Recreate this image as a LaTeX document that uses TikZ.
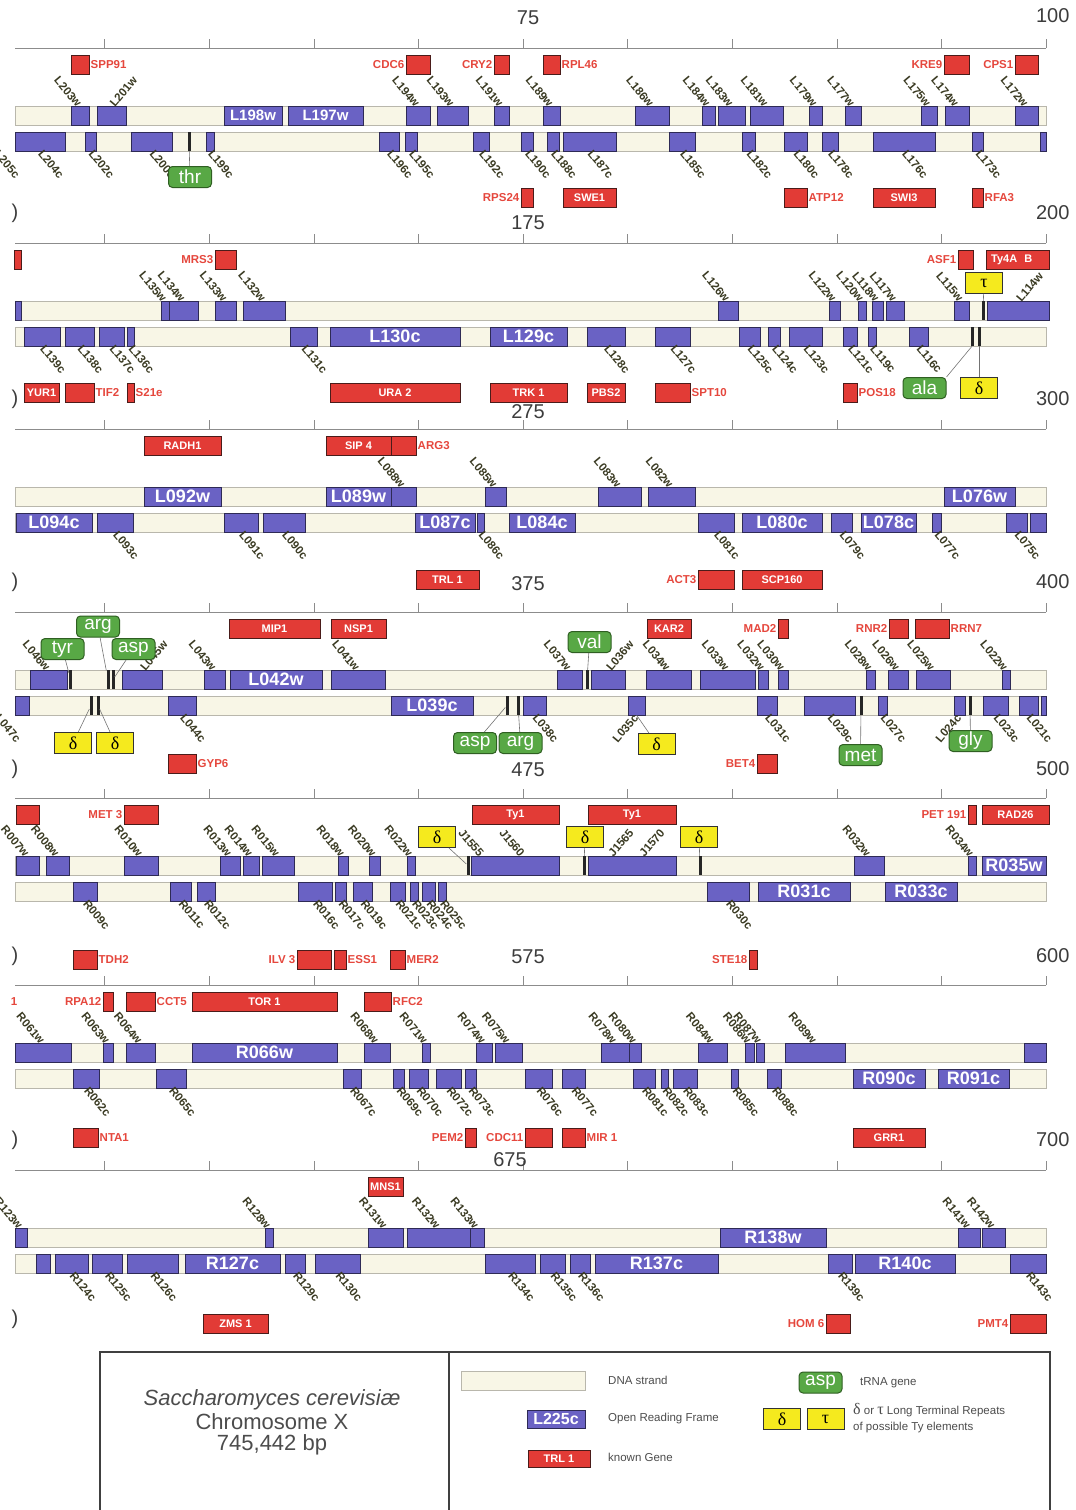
\documentclass[tikz,border=0pt]{standalone}
\usepackage{fontspec}
\setmainfont{Liberation Sans}
\newfontfamily\grk{Liberation Serif}
\usepackage{tikz}

\definecolor{orfc}{HTML}{6A62C4}
\definecolor{orfd}{HTML}{2E2A55}
\definecolor{genec}{HTML}{E23B36}
\definecolor{gened}{HTML}{4A1C1A}
\definecolor{bandc}{HTML}{F8F6E6}
\definecolor{bandd}{HTML}{B9B7AC}
\definecolor{labc}{HTML}{3A3A22}
\definecolor{redt}{HTML}{E5473D}
\definecolor{trnac}{HTML}{58A845}
\definecolor{trnad}{HTML}{2F5F22}
\definecolor{ltrc}{HTML}{F5EA1E}
\definecolor{numc}{HTML}{3C3C3C}

\tikzset{
  ruler/.style={draw=black!45, line width=0.6pt},
  strand/.style={draw=bandd, fill=bandc, line width=0.6pt},
  orf/.style={draw=orfd, fill=orfc, line width=0.7pt},
  gene/.style={draw=gened, fill=genec, line width=0.8pt},
  lab/.style={text=labc, font=\bfseries\fontsize{11.5}{11.5}\selectfont, inner sep=0.8pt},
  big/.style={text=white, font=\bfseries\fontsize{18}{18}\selectfont, inner sep=0pt},
  gin/.style={text=white, font=\bfseries\fontsize{11}{11}\selectfont, inner sep=0pt},
  gout/.style={text=redt, font=\bfseries\fontsize{11.5}{11.5}\selectfont, inner sep=1.5pt},
  trna/.style={draw=trnad, fill=trnac, line width=1pt, rounded corners=4pt, text=white,
    font=\fontsize{19}{19}\selectfont, minimum width=43pt, minimum height=21pt, inner sep=0pt},
  ltr/.style={draw=black!80, fill=ltrc, line width=0.8pt, font=\grk\fontsize{18}{18}\selectfont,
    minimum width=37pt, minimum height=21pt, inner sep=0pt},
  tmark/.style={fill=black!85, minimum width=3pt, minimum height=19pt, inner sep=0pt},
  conn/.style={draw=black!55, line width=0.6pt},
  num/.style={text=numc, font=\fontsize{20}{20}\selectfont},
  spec/.style={text=black!70, font=\fontsize{22}{22}\selectfont},
  key/.style={text=black!70, font=\fontsize{11.5}{12}\selectfont, anchor=west, inner sep=0pt}
}

% one row: ruler with ticks every 5 kb, watson and crick strands
\newcommand\Panel[1]{\def\Wy{#1}\pgfmathsetmacro\Cy{#1+26}\pgfmathsetmacro\Ay{#1-58}
  \draw[ruler] (15,\Ay) -- (1046,\Ay);
  \foreach \k in {1,...,10} \draw[ruler] ({104.6*\k},\Ay) -- ++(0,-9);
  \draw[strand] (15,\Wy) rectangle (1046,\Wy+19);
  \draw[strand] (15,\Cy) rectangle (1046,\Cy+19);}
% ORFs on the w strand
\newcommand\Wdn[3]{\draw[orf] (#1,\Wy) rectangle (#2,\Wy+19);
  \node[lab,rotate=-50,anchor=east] (#3) at ({(#1+#2)/2},\Wy) {#3};}
\newcommand\Wrise[3]{\draw[orf] (#1,\Wy) rectangle (#2,\Wy+19);
  \node[lab,rotate=50,anchor=west] (#3) at ({(#1+#2)/2},\Wy) {#3};}
\newcommand\Win[3]{\draw[orf] (#1,\Wy) rectangle (#2,\Wy+19);
  \node[big] (#3) at ({(#1+#2)/2},\Wy+9.5) {#3};}
\newcommand\Wbox[2]{\draw[orf] (#1,\Wy) rectangle (#2,\Wy+19);}
% ORFs on the c strand
\newcommand\Cdn[3]{\draw[orf] (#1,\Cy) rectangle (#2,\Cy+19);
  \node[lab,rotate=-50,anchor=west] (#3) at ({(#1+#2)/2},\Cy+19) {#3};}
\newcommand\Crise[3]{\draw[orf] (#1,\Cy) rectangle (#2,\Cy+19);
  \node[lab,rotate=50,anchor=east] (#3) at ({(#1+#2)/2},\Cy+19) {#3};}
\newcommand\Cin[3]{\draw[orf] (#1,\Cy) rectangle (#2,\Cy+19);
  \node[big] (#3) at ({(#1+#2)/2},\Cy+9.5) {#3};}
\newcommand\Cbox[2]{\draw[orf] (#1,\Cy) rectangle (#2,\Cy+19);}
% known genes: name inside, right or left
\newcommand\GI[4]{\draw[gene] (#2,#1) rectangle (#3,#1+19);
  \node[gin] (#4) at ({(#2+#3)/2},#1+9.5) {#4};}
\newcommand\GR[4]{\draw[gene] (#2,#1) rectangle (#3,#1+19);
  \node[gout,anchor=west] (#4) at (#3,#1+9.5) {#4};}
\newcommand\GL[4]{\draw[gene] (#2,#1) rectangle (#3,#1+19);
  \node[gout,anchor=east] (#4) at (#2,#1+9.5) {#4};}
% tRNA / LTR position on a strand
\newcommand\Mk[3]{\node[tmark] (#1) at (#2,#3+9.5) {};}

\begin{document}
\begin{tikzpicture}[x=1pt,y=-1pt]
\useasboundingbox (0,0) rectangle (1076,1510);
\begin{scope}
\clip (0,0) rectangle (1076,1510);

% row 1
\Panel{106}\def\GT{55}\def\GB{188}
\node[num] (n75) at (528,18) {75};
\node[num,anchor=east] (n100) at (1073,16) {100};
\GR{\GT}{71}{89}{SPP91}
\GL{\GT}{406}{430}{CDC6}
\GL{\GT}{494}{509}{CRY2}
\GR{\GT}{543}{560}{RPL46}
\GL{\GT}{944}{969}{KRE9}
\GL{\GT}{1015}{1038}{CPS1}
\Wdn{71}{89}{L203w}
\Wrise{97}{126}{L201w}
\begin{scope}[big/.append style={font=\bfseries\fontsize{15}{15}\selectfont}]
\Win{224}{282}{L198w}
\Win{288}{363}{L197w}
\end{scope}
\Wdn{406}{430}{L194w}
\Wdn{437}{468}{L193w}
\Wdn{494}{509}{L191w}
\Wdn{543}{560}{L189w}
\Wdn{635}{669}{L186w}
\Wdn{702}{715}{L184w}
\Wdn{718}{745}{L183w}
\Wdn{750}{783}{L181w}
\Wdn{809}{822}{L179w}
\Wdn{845}{861}{L177w}
\Wdn{921}{937}{L175w}
\Wdn{945}{969}{L174w}
\Wdn{1015}{1038}{L172w}
\node[lab,rotate=-50,anchor=west] (L205c) at (-4,\Cy+19) {L205c};
\Cdn{15}{65}{L204c}
\Cdn{85}{96}{L202c}
\Cdn{131}{172}{L200c}
\Cdn{206}{214}{L199c}
\Cdn{379}{399}{L196c}
\Cdn{405}{417}{L195c}
\Cdn{473}{489}{L192c}
\Cdn{521}{533}{L190c}
\Cdn{547}{559}{L188c}
\Cdn{563}{616}{L187c}
\Cdn{669}{695}{L185c}
\Cdn{742}{755}{L182c}
\Cdn{784}{807}{L180c}
\Cdn{822}{838}{L178c}
\Cdn{873}{935}{L176c}
\Cdn{972}{983}{L173c}
\Cbox{1040}{1046}
\Mk{m1}{189}{\Cy}
\node[trna] (thr) at (190,177) {thr};
\draw[conn] (m1) -- (thr);
\GL{\GB}{521}{533}{RPS24}
\GI{\GB}{563}{616}{SWE1}
\GR{\GB}{784}{807}{ATP12}
\GI{\GB}{873}{935}{SWI3}
\GR{\GB}{972}{983}{RFA3}

% row 2
\Panel{301}\def\GT{250}\def\GB{383}
\node[num] (n175) at (528,223) {175};
\node[num,anchor=east] (n200) at (1073,213) {200};
\node[num] (p200) at (15,213) {)};
\draw[gene] (14,\GT) rectangle (21,\GT+19);
\GL{\GT}{215}{236}{MRS3}
\GL{\GT}{958}{973}{ASF1}
\draw[gene] (986,\GT) rectangle (1049,\GT+19);
\node[gin,anchor=west] (Ty4A) at (991,\GT+9.5) {Ty4A\hspace{7pt}B};
\Wbox{15}{21}
\Wdn{161}{169}{L135w}
\Wdn{169}{198}{L134w}
\Wdn{215}{236}{L133w}
\Wdn{243}{285}{L132w}
\Wdn{718}{738}{L126w}
\Wdn{829}{840}{L122w}
\Wdn{858}{866}{L120w}
\Wdn{872}{883}{L118w}
\Wdn{886}{904}{L117w}
\Wdn{954}{969}{L115w}
\Wrise{987}{1049}{L114w}
\Cdn{24}{60}{L139c}
\Cdn{65}{94}{L138c}
\Cdn{99}{124}{L137c}
\Cdn{127}{134}{L136c}
\Cdn{290}{317}{L131c}
\Cin{330}{460}{L130c}
\Cin{490}{567}{L129c}
\Cdn{587}{625}{L128c}
\Cdn{655}{690}{L127c}
\Cdn{739}{760}{L125c}
\Cdn{768}{780}{L124c}
\Cdn{789}{822}{L123c}
\Cdn{843}{857}{L121c}
\Cdn{868}{876}{L119c}
\Cdn{909}{928}{L116c}
\Mk{m2}{983}{\Wy}
\Mk{m3}{972}{\Cy}
\Mk{m4}{979}{\Cy}
\node[ltr] (t1) at (984,283) {τ};
\node[trna] (ala) at (924.5,388) {ala};
\node[ltr] (d1) at (979,388) {δ};
\draw[conn] (t1) -- (m2);
\draw[conn] (m3.south) -- (ala.north east);
\draw[conn] (m4) -- (d1);
\GI{\GB}{24}{59}{YUR1}
\GR{\GB}{65}{94}{TIF2}
\GR{\GB}{127}{134}{S21e}
\GI{\GB}{330}{460}{URA 2}
\GI{\GB}{490}{567}{TRK 1}
\GI{\GB}{587}{625}{PBS2}
\GR{\GB}{655}{690}{SPT10}
\GR{\GB}{843}{857}{POS18}

% row 3
\Panel{487}\def\GT{436}\def\GB{570}
\node[num] (n275) at (528,412) {275};
\node[num,anchor=east] (n300) at (1073,399) {300};
\node[num] (p300) at (15,399) {)};
\GI{\GT}{144}{221}{RADH1}
\GI{\GT}{326}{391}{SIP 4}
\GR{\GT}{391}{416}{ARG3}
\Win{144}{221}{L092w}
\Win{326}{391}{L089w}
\Wdn{391}{416}{L088w}
\Wdn{485}{506}{L085w}
\Wdn{598}{641}{L083w}
\Wdn{648}{695}{L082w}
\Win{944}{1015}{L076w}
\Cin{16}{92}{L094c}
\Cdn{97}{133}{L093c}
\Cdn{224}{258}{L091c}
\Cdn{263}{305}{L090c}
\Cin{415}{475}{L087c}
\Cdn{477}{484}{L086c}
\Cin{509}{575}{L084c}
\Cdn{698}{734}{L081c}
\Cin{742}{822}{L080c}
\Cdn{831}{852}{L079c}
\Cin{861}{916}{L078c}
\Cdn{932}{941}{L077c}
\Cdn{1006}{1027}{L075c}
\Cbox{1030}{1046}
\GI{\GB}{416}{479}{TRL 1}
\GL{\GB}{698}{734}{ACT3}
\GI{\GB}{742}{822}{SCP160}

% row 4
\Panel{670}\def\GT{619}\def\GB{754}
\node[num] (n375) at (528,584) {375};
\node[num,anchor=east] (n400) at (1073,582) {400};
\node[num] (p400) at (15,582) {)};
\GI{\GT}{229}{320}{MIP1}
\GI{\GT}{331}{386}{NSP1}
\GI{\GT}{647}{691}{KAR2}
\GL{\GT}{778}{788}{MAD2}
\GL{\GT}{889}{908}{RNR2}
\GR{\GT}{915}{949}{RRN7}
\Wdn{30}{67}{L046w}
\Wrise{122}{162}{L045w}
\Wdn{204}{225}{L043w}
\Win{230}{322}{L042w}
\Wdn{331}{385}{L041w}
\Wdn{557}{582}{L037w}
\Wrise{591}{625}{L036w}
\Wdn{646}{691}{L034w}
\Wdn{700}{755}{L033w}
\Wdn{758}{768}{L032w}
\Wdn{778}{788}{L030w}
\Wdn{866}{875}{L028w}
\Wdn{888}{908}{L026w}
\Wdn{916}{950}{L025w}
\Wdn{1002}{1010}{L022w}
\Cbox{15}{29}
\node[lab,rotate=-50,anchor=west] (L047c) at (-3,\Cy+19) {L047c};
\Cdn{168}{196}{L044c}
\Cin{391}{473}{L039c}
\Cdn{523}{546}{L038c}
\Crise{628}{645}{L035c}
\Cdn{757}{777}{L031c}
\Cdn{804}{855}{L029c}
\Cdn{878}{887}{L027c}
\Crise{954}{965}{L024c}
\Cdn{983}{1008}{L023c}
\Cdn{1019}{1038}{L021c}
\Cbox{1041}{1046}
\Mk{m5}{70.6}{\Wy}
\Mk{m6}{108}{\Wy}
\Mk{m7}{113}{\Wy}
\Mk{m8}{587}{\Wy}
\Mk{m9}{91}{\Cy}
\Mk{m10}{98}{\Cy}
\Mk{m11}{507}{\Cy}
\Mk{m12}{518}{\Cy}
\Mk{m13}{861}{\Cy}
\Mk{m14}{970}{\Cy}
\node[trna] (arg1) at (98,626.5) {arg};
\node[trna] (tyr) at (62.5,649) {tyr};
\node[trna] (asp1) at (133.5,649) {asp};
\node[trna] (val) at (589.5,642) {val};
\node[ltr] (d2) at (73,743) {δ};
\node[ltr] (d3) at (115,743) {δ};
\node[trna] (asp2) at (475,743) {asp};
\node[trna] (arg2) at (520.5,743) {arg};
\node[ltr] (d4) at (656.5,744) {δ};
\node[trna] (met) at (860.5,755) {met};
\node[trna] (gly) at (970.5,741) {gly};
\draw[conn] (tyr) -- (m5);
\draw[conn] (arg1) -- (m6);
\draw[conn] (asp1) -- (m7);
\draw[conn] (val) -- (m8);
\draw[conn] (m9) -- (d2);
\draw[conn] (m10) -- (d3);
\draw[conn] (m11) -- (asp2);
\draw[conn] (m12) -- (arg2);
\draw[conn] (L035c.east) -- (d4);
\draw[conn] (m13) -- (met);
\draw[conn] (m14) -- (gly);
\GR{\GB}{168}{196}{GYP6}
\GL{\GB}{757}{777}{BET4}

% row 5
\Panel{856}\def\GT{805}\def\GB{950}
\node[num] (n475) at (528,770) {475};
\node[num,anchor=east] (n500) at (1073,769) {500};
\node[num] (p500) at (15,769) {)};
\draw[gene] (16,\GT) rectangle (39,\GT+19);
\GL{\GT}{124}{158}{MET 3}
\GI{\GT}{472}{559}{Ty1}
\draw[gene] (588,\GT) rectangle (676,\GT+19);
\node[gin] (Ty1b) at (632,\GT+9.5) {Ty1};
\GL{\GT}{968}{976}{PET 191}
\GI{\GT}{982}{1049}{RAD26}
\Wdn{16}{39}{R007w}
\Wdn{46}{69}{R008w}
\Wdn{124}{158}{R010w}
\Wdn{220}{240}{R013w}
\Wdn{243}{259}{R014w}
\Wdn{262}{294}{R015w}
\Wdn{338}{348}{R018w}
\Wdn{369}{380}{R020w}
\Wdn{407}{415}{R022w}
\Wbox{471}{559}
\node[lab,rotate=-50,anchor=east] (J1555) at (482,\Wy) {J1555};
\node[lab,rotate=-50,anchor=east] (J1560) at (523,\Wy) {J1560};
\Wbox{588}{676}
\node[lab,rotate=50,anchor=west] (J1565) at (610,\Wy) {J1565};
\node[lab,rotate=50,anchor=west] (J1570) at (641,\Wy) {J1570};
\Wdn{854}{884}{R032w}
\Wdn{968}{976}{R034w}
\Win{982}{1046}{R035w}
\Cdn{73}{97}{R009c}
\Cdn{170}{191}{R011c}
\Cdn{197}{215}{R012c}
\Cdn{298}{332}{R016c}
\Cdn{335}{346}{R017c}
\Cdn{353}{372}{R019c}
\Cdn{390}{405}{R021c}
\Cdn{410}{418}{R023c}
\Cdn{422}{435}{R024c}
\Cdn{438}{446}{R025c}
\Cdn{707}{749}{R030c}
\Cin{758}{850}{R031c}
\Cin{885}{957}{R033c}
\Mk{m15}{468}{\Wy}
\Mk{m16}{584}{\Wy}
\Mk{m17}{700}{\Wy}
\node[ltr] (d5) at (437,837) {δ};
\node[ltr] (d6) at (585,837) {δ};
\node[ltr] (d7) at (699,837) {δ};
\draw[conn] (d5) -- (m15);
\draw[conn] (d6) -- (m16);
\draw[conn] (d7) -- (m17);
\GR{\GB}{73}{97}{TDH2}
\GL{\GB}{297}{331}{ILV 3}
\GR{\GB}{334}{346}{ESS1}
\GR{\GB}{390}{405}{MER2}
\GL{\GB}{749}{757}{STE18}

% row 6
\Panel{1043}\def\GT{992}\def\GB{1128}
\node[num] (n575) at (528,957) {575};
\node[num,anchor=east] (n600) at (1073,956) {600};
\node[num] (p600) at (15,956) {)};
\node[gout,anchor=east] (cut1) at (19,\GT+9.5) {1};
\GL{\GT}{103}{113}{RPA12}
\GR{\GT}{126}{155}{CCT5}
\GI{\GT}{192}{337}{TOR 1}
\GR{\GT}{364}{391}{RFC2}
\Wdn{15}{71}{R061w}
\Wdn{103}{113}{R063w}
\Wdn{126}{155}{R064w}
\Win{192}{337}{R066w}
\Wdn{364}{390}{R068w}
\Wdn{422}{430}{R071w}
\Wdn{476}{492}{R074w}
\Wdn{495}{522}{R075w}
\Wdn{601}{629}{R078w}
\Wdn{629}{641}{R080w}
\Wdn{698}{727}{R084w}
\Wdn{745}{754}{R086w}
\Wdn{756}{764}{R087w}
\Wdn{785}{845}{R089w}
\Wbox{1024}{1046}
\Cdn{73}{99}{R062c}
\Cdn{156}{186}{R065c}
\Cdn{343}{361}{R067c}
\Cdn{393}{404}{R069c}
\Cdn{409}{428}{R070c}
\Cdn{436}{461}{R072c}
\Cdn{465}{476}{R073c}
\Cdn{525}{552}{R076c}
\Cdn{562}{585}{R077c}
\Cdn{633}{655}{R081c}
\Cdn{661}{668}{R082c}
\Cdn{673}{697}{R083c}
\Cdn{731}{738}{R085c}
\Cdn{767}{781}{R088c}
\Cin{853}{925}{R090c}
\Cin{938}{1009}{R091c}
\GR{\GB}{73}{98}{NTA1}
\GL{\GB}{465}{476}{PEM2}
\GL{\GB}{525}{552}{CDC11}
\GR{\GB}{562}{585}{MIR 1}
\GI{\GB}{853}{925}{GRR1}

% row 7
\Panel{1228}\def\GT{1177}\def\GB{1314}
\node[num] (n675) at (510,1160) {675};
\node[num,anchor=east] (n700) at (1073,1140) {700};
\node[num] (p700) at (15,1140) {)};
\node[num] (p800) at (15,1319) {)};
\GI{\GT}{368}{403}{MNS1}
\Wdn{15}{27}{R123w}
\Wdn{265}{273}{R128w}
\Wdn{368}{403}{R131w}
\Wdn{407}{470}{R132w}
\Wdn{470}{484}{R133w}
\Win{720}{826}{R138w}
\Wdn{958}{980}{R141w}
\Wdn{982}{1005}{R142w}
\Cbox{36}{50}
\Cdn{55}{88}{R124c}
\Cdn{92}{122}{R125c}
\Cdn{127}{178}{R126c}
\Cin{185}{280}{R127c}
\Cdn{285}{305}{R129c}
\Cdn{315}{360}{R130c}
\Cdn{485}{535}{R134c}
\Cdn{540}{565}{R135c}
\Cdn{570}{590}{R136c}
\Cin{595}{718}{R137c}
\Cdn{828}{852}{R139c}
\Cin{855}{955}{R140c}
\Cdn{1010}{1046}{R143c}
\GI{\GB}{203}{268}{ZMS 1}
\GL{\GB}{826}{850}{HOM 6}
\GL{\GB}{1010}{1046}{PMT4}

% legend
\draw[draw=black!75, line width=1.2pt] (100,1352) rectangle (1050,1530);
\draw[draw=black!75, line width=1.2pt] (449,1352) -- (449,1530);
\node[spec] (sp) at (272,1400) {\itshape Saccharomyces cerevisiæ};
\node[spec] (chr) at (272,1422) {Chromosome X};
\node[spec] (bp) at (272,1445) {745,442 bp};
\draw[strand] (461,1371) rectangle (585,1390);
\node[key] (k1) at (608,1380) {DNA strand};
\draw[orf] (527,1410) rectangle (585,1428);
\node[big,font=\bfseries\fontsize{16}{16}\selectfont] (L225c) at (556,1419) {L225c};
\node[key] (k2) at (608,1419) {Open Reading Frame};
\draw[gene] (528,1450) rectangle (590,1467);
\node[gin] (TRLk) at (559,1458.5) {TRL 1};
\node[key] (k3) at (608,1457) {known Gene};
\node[trna] (aspk) at (820.5,1382.5) {asp};
\node[key] (k4) at (860,1383) {tRNA gene};
\node[ltr] (dk) at (782,1419) {δ};
\node[ltr] (tk) at (825.5,1419) {τ};
\node[key] (k5) at (853,1410) {{\grk\fontsize{16}{16}\selectfont δ} or {\grk\fontsize{16}{16}\selectfont τ} Long Terminal Repeats};
\node[key] (k6) at (853,1428) {of possible Ty elements};
\end{scope}
\end{tikzpicture}
\end{document}
